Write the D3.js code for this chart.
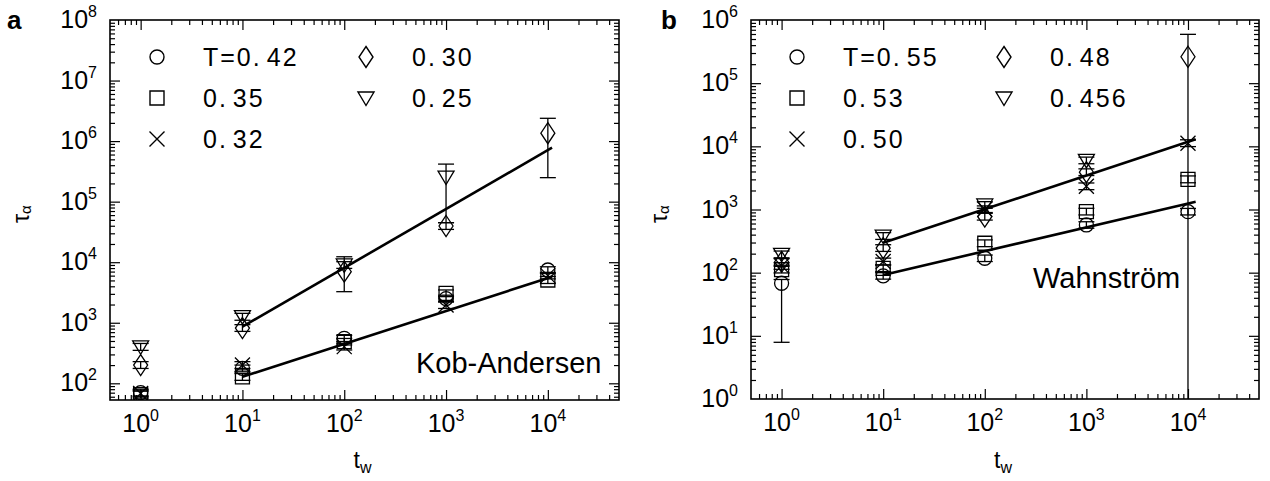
<!DOCTYPE html>
<html><head><meta charset="utf-8">
<script src="https://cdn.jsdelivr.net/npm/d3@7"></script>
<style>
body{margin:0;background:#fff}
svg{display:block}
text{font-family:"Liberation Sans",Arial,Helvetica,sans-serif;fill:#000}
</style>
</head><body>
<svg id="chart" width="1270" height="481"></svg>
<script>
// ---------- data ----------
const tw = [1, 10, 100, 1000, 10000];
const xTickExp = [0, 1, 2, 3, 4];

// Panel a : Kob-Andersen
const kaLabels = ["T=0.42", "0.35", "0.32", "0.30", "0.25"];
const kaSymbols = ["circle", "square", "cross", "diamond", "triangle"];
const ka042 = [70, 177, 553, 2510, 7430];
const ka042Lo = [62, 155, 490, 2200, 6500];
const ka042Hi = [80, 200, 620, 2850, 8400];
const ka035 = [65, 128, 487, 3060, 5080];
const ka035Lo = [57, 112, 430, 2700, 4450];
const ka035Hi = [74, 145, 550, 3480, 5800];
const ka032 = [68, 200, 403, 1960, 6000];
const ka032Lo = [60, 176, 355, 1720, 5300];
const ka032Hi = [77, 228, 458, 2230, 6800];
const ka030 = [200, 818, 6970, 39600, 1350000];
const ka030Lo = [176, 720, 3260, 34800, 249000];
const ka030Hi = [228, 930, 12300, 45000, 2380000];
const ka025 = [400, 1260, 9000, 255000, null];
const ka025Lo = [350, 1100, 7900, 45000, null];
const ka025Hi = [455, 1430, 10200, 417000, null];
const kaFitHighX = [10, 11000], kaFitHighY = [861, 778000];
const kaFitLowX = [10, 11000], kaFitLowY = [128, 5760];
const kaYTickExp = [2, 3, 4, 5, 6, 7, 8];

// Panel b : Wahnström
const wLabels = ["T=0.55", "0.53", "0.50", "0.48", "0.456"];
const wSymbols = ["circle", "square", "cross", "diamond", "triangle"];
const w055 = [68, 89, 169, 569, 925];
const w055Lo = [7.9, 79, 150, 505, 820];
const w055Hi = [78, 100, 190, 640, 1040];
const w053 = [112, 117, 292, 925, 3000];
const w053Lo = [99, 104, 258, 820, 2650];
const w053Hi = [126, 132, 330, 1045, 3400];
const w050 = [128, 150, 1010, 2330, 11200];
const w050Lo = [113, 133, 895, 2060, 9900];
const w050Hi = [144, 170, 1140, 2630, 12700];
const w048 = [148, 245, 770, 3900, 262000];
const w048Lo = [131, 217, 680, 3450, 0.5];
const w048Hi = [167, 277, 870, 4400, 593000];
const w0456 = [195, 380, 1180, 5980, null];
const w0456Lo = [172, 336, 1045, 5300, null];
const w0456Hi = [220, 430, 1330, 6750, null];
const wFitHighX = [10, 11900], wFitHighY = [298, 12900];
const wFitLowX = [10, 11900], wFitLowY = [92, 1330];
const wYTickExp = [0, 1, 2, 3, 4, 5, 6];

// ---------- drawing ----------
const svg = d3.select("#chart");

function symbolPath(type) {
  const p = d3.path();
  if (type === "circle") { p.moveTo(7, 0); p.arc(0, 0, 7, 0, 2 * Math.PI); }
  else if (type === "square") { p.rect(-7, -7, 14, 14); }
  else if (type === "cross") { p.moveTo(-7.5, -7.5); p.lineTo(7.5, 7.5); p.moveTo(7.5, -7.5); p.lineTo(-7.5, 7.5); }
  else if (type === "diamond") { p.moveTo(0, -10.5); p.lineTo(7, 0); p.lineTo(0, 10.5); p.lineTo(-7, 0); p.closePath(); }
  else if (type === "triangle") { p.moveTo(-8, -6); p.lineTo(8, -6); p.lineTo(0, 7.5); p.closePath(); }
  return p.toString();
}

function powLabel(sel, exp, anchor, x, y) {
  const t = sel.append("text").attr("x", x).attr("y", y).attr("text-anchor", anchor)
    .attr("font-size", 25);
  t.append("tspan").text("10");
  t.append("tspan").attr("font-size", 16).attr("dy", -11).text(exp);
}

function legendText(sel, label, x, y) {
  const t = sel.append("text").attr("x", x).attr("y", y).attr("font-size", 25)
    .attr("letter-spacing", 2);
  const i = label.indexOf(".");
  t.append("tspan").text(label.slice(0, i + 1));
  t.append("tspan").attr("dx", 5).text(label.slice(i + 1));
}

function panel(o) {
  const g = svg.append("g");
  const x = d3.scaleLog().domain([0.5, 50000]).range([o.x0, o.x1]);
  const y = d3.scaleLog().domain(o.yDomain).range([o.y1, o.y0]);
  const clipId = "clip" + o.id;
  svg.append("clipPath").attr("id", clipId).append("rect")
    .attr("x", o.x0).attr("y", o.y0).attr("width", o.x1 - o.x0).attr("height", o.y1 - o.y0);

  const xMinor = [], yMinor = [];
  for (let e = -1; e <= 4; e++) for (let m = 2; m <= 9; m++) {
    const v = m * Math.pow(10, e);
    if (v > 0.5 && v < 50000) xMinor.push(v);
  }
  const [ya, yb] = o.yDomain;
  for (let e = Math.floor(Math.log10(ya)); e <= Math.ceil(Math.log10(yb)); e++) for (let m = 2; m <= 9; m++) {
    const v = m * Math.pow(10, e);
    if (v > ya && v < yb) yMinor.push(v);
  }
  const xMajor = xTickExp.map(e => Math.pow(10, e));
  const yMajor = o.yTickExp.map(e => Math.pow(10, e)).filter(v => v > ya && v < yb);

  const tickStyle = s => s.call(a => a.select(".domain").remove())
    .selectAll("line").attr("stroke", "#000").attr("stroke-width", 1.2);

  g.append("g").attr("transform", `translate(0,${o.y1})`)
    .call(d3.axisBottom(x).tickValues(xMajor).tickSize(-10).tickFormat("")).call(tickStyle);
  g.append("g").attr("transform", `translate(0,${o.y1})`)
    .call(d3.axisBottom(x).tickValues(xMinor).tickSize(-5).tickFormat("")).call(tickStyle);
  g.append("g").attr("transform", `translate(0,${o.y0})`)
    .call(d3.axisTop(x).tickValues(xMajor).tickSize(-10).tickFormat("")).call(tickStyle);
  g.append("g").attr("transform", `translate(0,${o.y0})`)
    .call(d3.axisTop(x).tickValues(xMinor).tickSize(-5).tickFormat("")).call(tickStyle);
  g.append("g").attr("transform", `translate(${o.x0},0)`)
    .call(d3.axisLeft(y).tickValues(yMajor).tickSize(-10).tickFormat("")).call(tickStyle);
  g.append("g").attr("transform", `translate(${o.x0},0)`)
    .call(d3.axisLeft(y).tickValues(yMinor).tickSize(-5).tickFormat("")).call(tickStyle);
  g.append("g").attr("transform", `translate(${o.x1},0)`)
    .call(d3.axisRight(y).tickValues(yMajor).tickSize(-10).tickFormat("")).call(tickStyle);
  g.append("g").attr("transform", `translate(${o.x1},0)`)
    .call(d3.axisRight(y).tickValues(yMinor).tickSize(-5).tickFormat("")).call(tickStyle);

  g.append("rect").attr("x", o.x0).attr("y", o.y0).attr("width", o.x1 - o.x0).attr("height", o.y1 - o.y0)
    .attr("fill", "none").attr("stroke", "#000").attr("stroke-width", 1.6);

  xTickExp.forEach(e => powLabel(g, e, "middle", x(Math.pow(10, e)), o.y1 + 32));
  o.yTickExp.forEach(e => powLabel(g, e, "end", o.x0 - 13, y(Math.pow(10, e)) + 8));

  const pg = g.append("g").attr("clip-path", `url(#${clipId})`);
  const line = d3.line().x(d => x(d[0])).y(d => y(d[1]));
  o.fits.forEach(f => {
    pg.append("path").attr("d", line(d3.zip(f[0], f[1])))
      .attr("fill", "none").attr("stroke", "#000").attr("stroke-width", 2.6);
  });
  o.series.forEach((s, si) => {
    s.v.forEach((v, i) => {
      if (v == null) return;
      const cx = x(tw[i]);
      const yl = y(Math.max(s.lo[i], ya * 0.5)), yh = y(s.hi[i]);
      pg.append("line").attr("x1", cx).attr("x2", cx).attr("y1", yl).attr("y2", yh)
        .attr("stroke", "#000").attr("stroke-width", 1.3);
      [s.lo[i], s.hi[i]].forEach(ev => {
        if (ev <= ya) return;
        pg.append("line").attr("x1", cx - 8).attr("x2", cx + 8).attr("y1", y(ev)).attr("y2", y(ev))
          .attr("stroke", "#000").attr("stroke-width", 1.3);
      });
      pg.append("path").attr("d", symbolPath(o.symbols[si]))
        .attr("transform", `translate(${cx},${y(v)})`)
        .attr("fill", "none").attr("stroke", "#000").attr("stroke-width", 1.3);
    });
  });

  const lg = g.append("g");
  o.labels.forEach((lab, i) => {
    const col = i < 3 ? 0 : 1, row = i < 3 ? i : i - 3;
    const mx = o.legX[col], my = 57 + row * 41;
    lg.append("path").attr("d", symbolPath(o.symbols[i])).attr("transform", `translate(${mx},${my})`)
      .attr("fill", "none").attr("stroke", "#000").attr("stroke-width", 1.4);
    legendText(lg, lab, mx + 46, my + 8.5);
  });

  g.append("text").attr("x", o.noteX).attr("y", o.noteY).attr("font-size", 29).text(o.note);
  g.append("text").attr("x", o.letterX).attr("y", 29).attr("font-size", 26).attr("font-weight", "bold").text(o.letter);
  const yt = g.append("text").attr("transform", `translate(${o.yTitleX},223) rotate(-90)`).attr("font-size", 23);
  yt.append("tspan").text("τ");
  yt.append("tspan").attr("font-size", 15).attr("dy", 2).text("α");
  const xt = g.append("text").attr("x", (o.x0 + o.x1) / 2 - 2).attr("y", 468).attr("text-anchor", "middle").attr("font-size", 23);
  xt.append("tspan").text("t");
  xt.append("tspan").attr("font-size", 16).attr("dy", 5).text("w");
}

panel({
  id: "a", x0: 110, x1: 619, y0: 20, y1: 400, yDomain: [53, 1e8], yTickExp: kaYTickExp,
  labels: kaLabels, symbols: kaSymbols, legX: [157, 366],
  series: [
    {v: ka042, lo: ka042Lo, hi: ka042Hi},
    {v: ka035, lo: ka035Lo, hi: ka035Hi},
    {v: ka032, lo: ka032Lo, hi: ka032Hi},
    {v: ka030, lo: ka030Lo, hi: ka030Hi},
    {v: ka025, lo: ka025Lo, hi: ka025Hi}
  ],
  fits: [[kaFitHighX, kaFitHighY], [kaFitLowX, kaFitLowY]],
  note: "Kob-Andersen", noteX: 416, noteY: 373, letter: "a", letterX: 7, yTitleX: 28.5
});

panel({
  id: "b", x0: 751, x1: 1259, y0: 20, y1: 399, yDomain: [1, 1e6], yTickExp: wYTickExp,
  labels: wLabels, symbols: wSymbols, legX: [797, 1004],
  series: [
    {v: w055, lo: w055Lo, hi: w055Hi},
    {v: w053, lo: w053Lo, hi: w053Hi},
    {v: w050, lo: w050Lo, hi: w050Hi},
    {v: w048, lo: w048Lo, hi: w048Hi},
    {v: w0456, lo: w0456Lo, hi: w0456Hi}
  ],
  fits: [[wFitHighX, wFitHighY], [wFitLowX, wFitLowY]],
  note: "Wahnström", noteX: 1033, noteY: 288, letter: "b", letterX: 661, yTitleX: 667
});
</script>
</body></html>
